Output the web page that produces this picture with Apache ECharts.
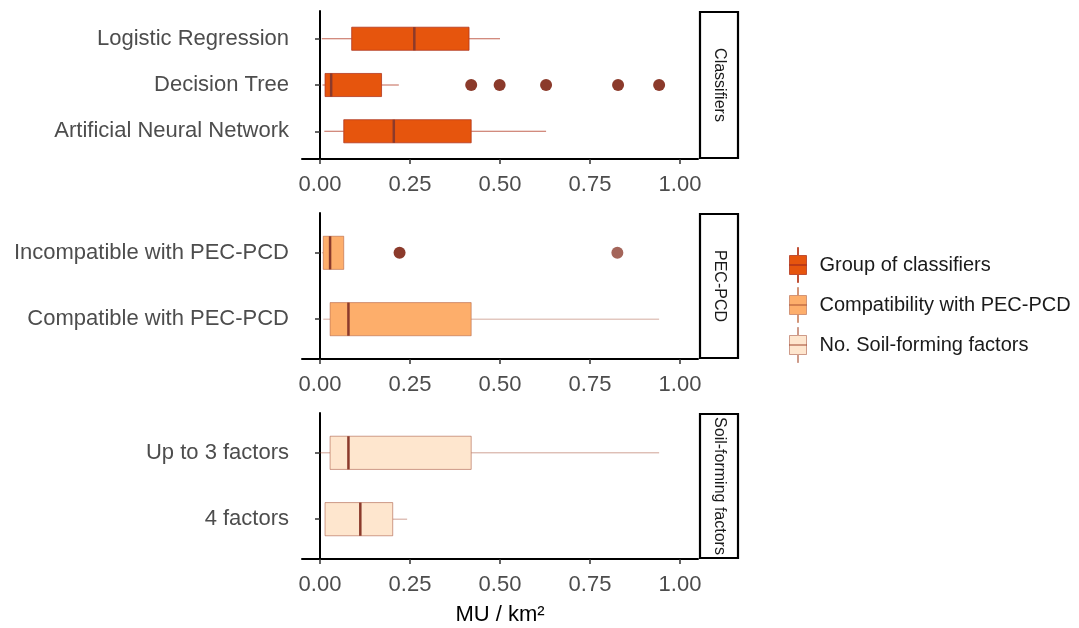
<!DOCTYPE html>
<html>
<head>
<meta charset="utf-8">
<script src="https://cdn.jsdelivr.net/npm/echarts@6/dist/echarts.min.js"></script>
<style>
  html, body { margin: 0; padding: 0; background: #fff; }
  #chart { width: 1079px; height: 628px; }
</style>
</head>
<body>
<div id="chart"></div>
<script>
// categories per panel (top to bottom)
const classifierCats = ['Logistic Regression', 'Decision Tree', 'Artificial Neural Network']
const pecCats = ['Incompatible with PEC-PCD', 'Compatible with PEC-PCD']
const soilCats = ['Up to 3 factors', '4 factors']

// box stats: [lower whisker, Q1, median, Q3, upper whisker]
const classifierStats = [
  [0.005, 0.088, 0.262, 0.414, 0.500],
  [0.007, 0.014, 0.031, 0.171, 0.219],
  [0.012, 0.066, 0.205, 0.420, 0.628]
]
const pecStats = [
  [0.005, 0.009, 0.028, 0.066, 0.066],
  [0.009, 0.028, 0.079, 0.420, 0.942]
]
const soilStats = [
  [0.000, 0.028, 0.079, 0.420, 0.942],
  [0.014, 0.014, 0.112, 0.202, 0.242]
]

// outliers: [value, category index]
const classifierOutliers = [[0.420, 1], [0.499, 1], [0.628, 1], [0.828, 1], [0.942, 1]]
const pecOutliers = [[0.221, 0], [0.826, 0]]
const soilOutliers = []

const xTicks = [0, 0.25, 0.5, 0.75, 1]
const groupNames = ['Group of classifiers', 'Compatibility with PEC-PCD', 'No. Soil-forming factors']
const stripNames = ['Classifiers', 'PEC-PCD', 'Soil-forming factors']

const FONT = '"Liberation Sans", Arial, sans-serif'
const fills = ['#E6550D', '#FDAE6B', '#FEE6CE']
const lineColors = ['rgba(175,50,25,0.75)', 'rgba(160,70,45,0.45)', 'rgba(160,70,45,0.5)']
const medianColor = '#8B3A2B'

const panels = [
  { cats: classifierCats, stats: classifierStats, outliers: classifierOutliers, top: 11, height: 148 },
  { cats: pecCats, stats: pecStats, outliers: pecOutliers, top: 213, height: 146 },
  { cats: soilCats, stats: soilStats, outliers: soilOutliers, top: 413, height: 146 }
]
const plotLeft = 302
const plotWidth = 396

const chart = echarts.init(document.getElementById('chart'))

const makeRender = (lineColor) => (params, api) => {
  const cat = api.value(0)
  const lo = api.coord([api.value(1), cat])
  const q1 = api.coord([api.value(2), cat])
  const md = api.coord([api.value(3), cat])
  const q3 = api.coord([api.value(4), cat])
  const hi = api.coord([api.value(5), cat])
  const h = api.size([0, 1])[1] * 0.5
  const y = lo[1]
  return {
    type: 'group',
    children: [
      { type: 'line', shape: { x1: lo[0], y1: y, x2: q1[0], y2: y }, style: { stroke: lineColor, lineWidth: 1 } },
      { type: 'line', shape: { x1: q3[0], y1: y, x2: hi[0], y2: y }, style: { stroke: lineColor, lineWidth: 1 } },
      { type: 'rect', shape: { x: q1[0], y: y - h / 2, width: q3[0] - q1[0], height: h },
        style: { fill: api.visual('color'), stroke: lineColor, lineWidth: 1 } },
      { type: 'line', shape: { x1: md[0], y1: y - h / 2, x2: md[0], y2: y + h / 2 },
        style: { stroke: medianColor, lineWidth: 2.5 } }
    ]
  }
}

const grids = []
const xAxes = []
const yAxes = []
const series = []
const graphics = []

panels.forEach((p, k) => {
  const n = p.cats.length
  const unit = p.height / (n + 0.2)
  // frame grid: axis lines, x ticks and labels
  grids.push({ left: plotLeft, width: plotWidth, top: p.top, height: p.height, outerBoundsMode: 'none', containLabel: false })
  // data grid: categories spaced like ggplot (0.6 unit padding)
  grids.push({ left: plotLeft, width: plotWidth, top: p.top + 0.1 * unit, height: n * unit, outerBoundsMode: 'none', containLabel: false })

  xAxes.push({
    gridIndex: 2 * k, type: 'value', min: -0.05, max: 1.05,
    axisLine: { show: true, lineStyle: { color: '#000', width: 2 } },
    axisTick: { show: true, customValues: xTicks, length: 5, lineStyle: { color: '#333', width: 1.5 } },
    axisLabel: { customValues: xTicks, formatter: (v) => v.toFixed(2), fontSize: 22, color: '#4D4D4D', fontFamily: FONT, margin: 15 },
    splitLine: { show: false },
    name: k === 2 ? 'MU / km²' : '',
    nameLocation: 'middle', nameGap: 45,
    nameTextStyle: { fontSize: 22, color: '#000', fontFamily: FONT }
  })
  xAxes.push({ gridIndex: 2 * k + 1, type: 'value', min: -0.05, max: 1.05, show: false })

  yAxes.push({
    gridIndex: 2 * k, type: 'value', min: 0, max: 1,
    axisLine: { show: true, lineStyle: { color: '#000', width: 2 } },
    axisTick: { show: false }, axisLabel: { show: false }, splitLine: { show: false }
  })
  yAxes.push({
    gridIndex: 2 * k + 1, type: 'category', data: p.cats, inverse: true,
    axisLine: { show: false },
    axisTick: { show: true, alignWithLabel: true, length: 5, lineStyle: { color: '#333', width: 1.5 } },
    axisLabel: { fontSize: 22, color: '#4D4D4D', fontFamily: FONT, margin: 13, padding: [4, 0, 0, 0] }
  })

  series.push({
    name: groupNames[k],
    type: 'custom',
    xAxisIndex: 2 * k + 1, yAxisIndex: 2 * k + 1,
    itemStyle: { color: fills[k], borderColor: lineColors[k] },
    renderItem: makeRender(lineColors[k]),
    encode: { x: [1, 2, 3, 4, 5], y: 0 },
    data: p.stats.map((s, i) => [i].concat(s)),
    silent: true
  })
  series.push({
    type: 'scatter',
    xAxisIndex: 2 * k + 1, yAxisIndex: 2 * k + 1,
    symbolSize: 12,
    itemStyle: { color: medianColor, opacity: 1 },
    data: p.outliers.map((d, i) => (k === 1 && i === 1 ? { value: d, itemStyle: { opacity: 0.78 } } : d)),
    silent: true
  })

  // facet strip on the right
  graphics.push({
    type: 'rect',
    shape: { x: 700, y: p.top + 1, width: 38, height: p.height - 2 },
    style: { fill: '#fff', stroke: '#000', lineWidth: 2.2 }
  })
  graphics.push({
    type: 'text',
    x: 719, y: p.top + p.height / 2,
    rotation: -Math.PI / 2,
    style: { text: stripNames[k], font: '16px ' + FONT, fill: '#1A1A1A', align: 'center', verticalAlign: 'middle' }
  })
})

const legendIcon = 'path://M8,0 L9,0 L9,8 L17,8 L17,27 L9,27 L9,35 L8,35 L8,27 L0,27 L0,8 L8,8 Z M0,17 L17,17 L17,18 L0,18 Z'

chart.setOption({
  animation: false,
  grid: grids,
  xAxis: xAxes,
  yAxis: yAxes,
  series: series,
  graphic: graphics,
  legend: {
    orient: 'vertical',
    left: 789, top: 247,
    padding: 0,
    itemWidth: 17, itemHeight: 35, itemGap: 4,
    icon: legendIcon,
    textStyle: { fontSize: 20, color: '#1A1A1A', fontFamily: FONT, padding: [0, 0, 0, 8] },
    data: groupNames.map((name, k) => ({
      name: name,
      itemStyle: { color: fills[k], borderColor: lineColors[k], borderWidth: 1 }
    }))
  }
})

window.addEventListener('resize', () => chart.resize())
</script>
</body>
</html>
